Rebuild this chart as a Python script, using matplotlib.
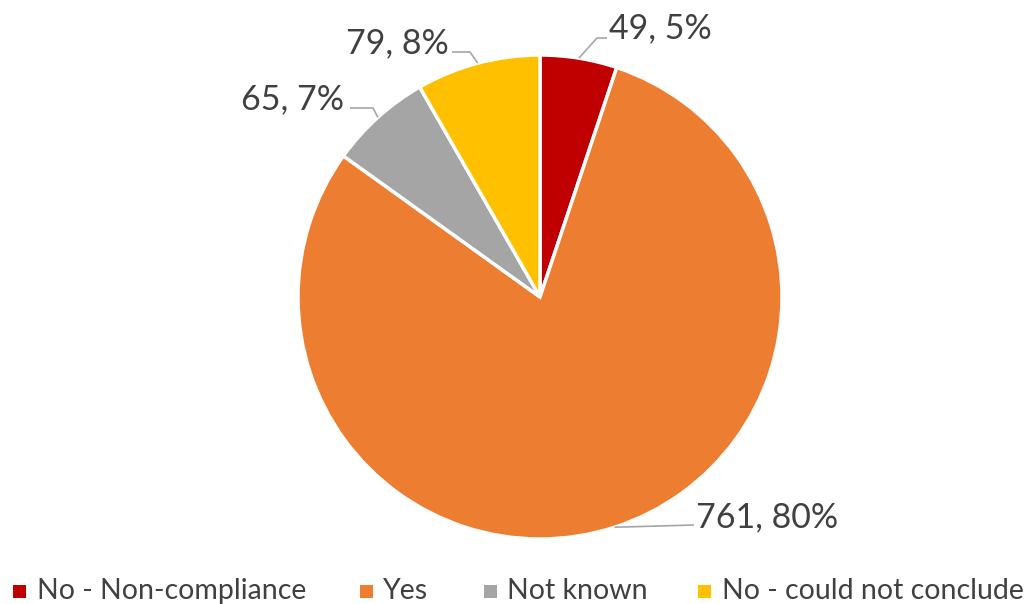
import numpy as np
import matplotlib.pyplot as plt
from matplotlib.patches import Rectangle

plt.rcParams['font.family'] = ['Lato', 'DejaVu Sans']

categories = ['No - Non-compliance', 'Yes', 'Not known', 'No - could not conclude']
counts = [49, 761, 65, 79]
colors = ['#C00000', '#ED7D31', '#A5A5A5', '#FFC000']
text_color = '#404040'

W, H = 1035, 604
fig = plt.figure(figsize=(W / 100, H / 100), dpi=100)
ax = fig.add_axes([0, 0, 1, 1])
R = 242.0  # pie radius in pixels
cx, cy = 540, 297

wedges, _ = ax.pie(counts, colors=colors, startangle=90, counterclock=False,
                   radius=1.0, center=(0, 0), frame=True,
                   wedgeprops=dict(edgecolor='white', linewidth=2.5))
ax.set_xlim(-cx / R, (W - cx) / R)
ax.set_ylim((cy - H) / R, cy / R)
ax.axis('off')


def px(x, y):
    return ((x - cx) / R, (cy - y) / R)


total = sum(counts)
labels = ['%d, %d%%' % (c, round(100 * c / total)) for c in counts]

# label layout: (text anchor px, ha, leader line points px)
layout = [
    ((609, 28), 'left', [(597, 38), (607, 38)]),
    ((696, 517), 'left', [(694, 525)]),
    ((344, 99), 'right', [(373, 108), (350, 108)]),
    ((449, 43), 'right', [(470, 52), (452, 52)]),
]

for w, lab, (tpos, ha, pts) in zip(wedges, labels, layout):
    mid = np.deg2rad((w.theta1 + w.theta2) / 2)
    xs = [np.cos(mid)] + [px(*p)[0] for p in pts]
    ys = [np.sin(mid)] + [px(*p)[1] for p in pts]
    ax.plot(xs, ys, color='#A6A6A6', lw=1.2, solid_capstyle='butt')
    tx, ty = px(*tpos)
    ax.text(tx, ty, lab, ha=ha, va='center', fontsize=24.5, color=text_color)

# legend along the bottom edge (marker left x, text left x in px)
legend_x = [(13, 37), (360, 383), (484, 507), (698, 722)]
for (mx, tx), c, name in zip(legend_x, colors, categories):
    fig.patches.append(Rectangle((mx / W, 1 - 598 / H), 13 / W, 13 / H,
                                 transform=fig.transFigure, facecolor=c,
                                 edgecolor='none'))
    fig.text(tx / W, 1 - 599 / H, name, ha='left', va='baseline',
             fontsize=20.5, color=text_color)

fig.savefig('out.png', dpi=100)
